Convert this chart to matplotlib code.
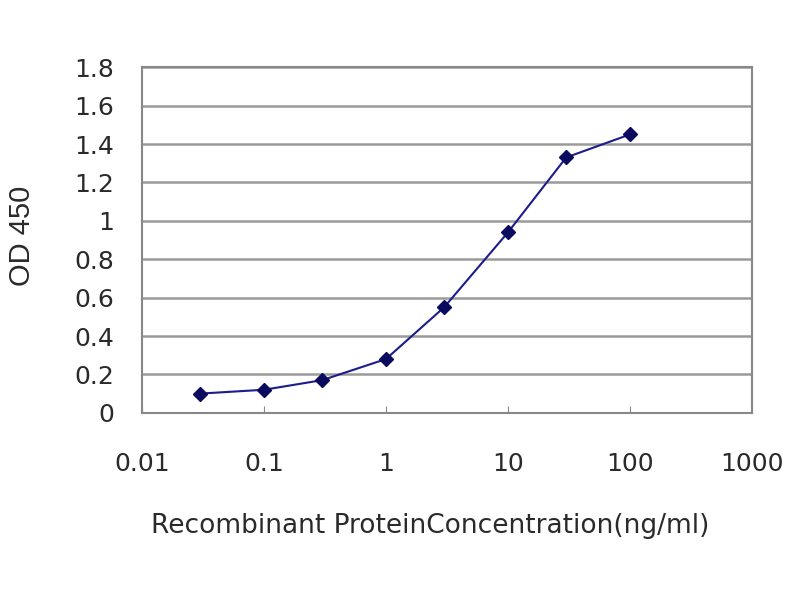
import numpy as np
import matplotlib.pyplot as plt
from matplotlib.ticker import FixedLocator, FixedFormatter, NullLocator

plt.rcParams['font.family'] = ['DejaVu Sans']

# concentration (ng/ml) and OD 450 readings
conc = [0.03, 0.1, 0.3, 1, 3, 10, 30, 100]
od450 = [0.10, 0.12, 0.17, 0.28, 0.55, 0.94, 1.33, 1.45]

x_ticks = [0.01, 0.1, 1, 10, 100, 1000]
x_labels = ['0.01', '0.1', '1', '10', '100', '1000']
y_ticks = [0, 0.2, 0.4, 0.6, 0.8, 1.0, 1.2, 1.4, 1.6, 1.8]
y_labels = ['0', '0.2', '0.4', '0.6', '0.8', '1', '1.2', '1.4', '1.6', '1.8']

txt = '#2a2a2a'

fig = plt.figure(figsize=(8, 6), dpi=100)
ax = fig.add_axes([0.1775, 0.312, 0.7625, 0.576])

ax.plot(conc, od450, color='#1c1c8c', linewidth=1.5, marker='D',
        markersize=7, markerfacecolor='#0a0a5e', markeredgecolor='#0a0a5e', zorder=3)

ax.set_xscale('log')
ax.set_xlim(0.01, 1000)
ax.set_ylim(0, 1.8)
ax.xaxis.set_major_locator(FixedLocator(x_ticks))
ax.xaxis.set_major_formatter(FixedFormatter(x_labels))
ax.xaxis.set_minor_locator(NullLocator())
ax.yaxis.set_major_locator(FixedLocator(y_ticks))
ax.yaxis.set_major_formatter(FixedFormatter(y_labels))

ax.yaxis.grid(True, color='#9a9a9a', linewidth=1.8)
ax.set_axisbelow(True)
for s in ax.spines.values():
    s.set_color('#888888')
    s.set_linewidth(1.5)

ax.tick_params(axis='y', length=0, pad=20, labelsize=18, labelcolor=txt)
ax.tick_params(axis='x', length=5, color='#888888', direction='in', pad=28,
               labelsize=18, labelcolor=txt)

ax.set_xlabel('Recombinant ProteinConcentration(ng/ml)', fontsize=19, color=txt)
ax.xaxis.set_label_coords(0.472, -0.29)

fig.text(0.027, 0.607, 'OD 450', rotation=90, ha='center', va='center',
         fontsize=21, color=txt,
         family=['Liberation Sans', 'DejaVu Sans'])

fig.savefig('out.png', dpi=100)
